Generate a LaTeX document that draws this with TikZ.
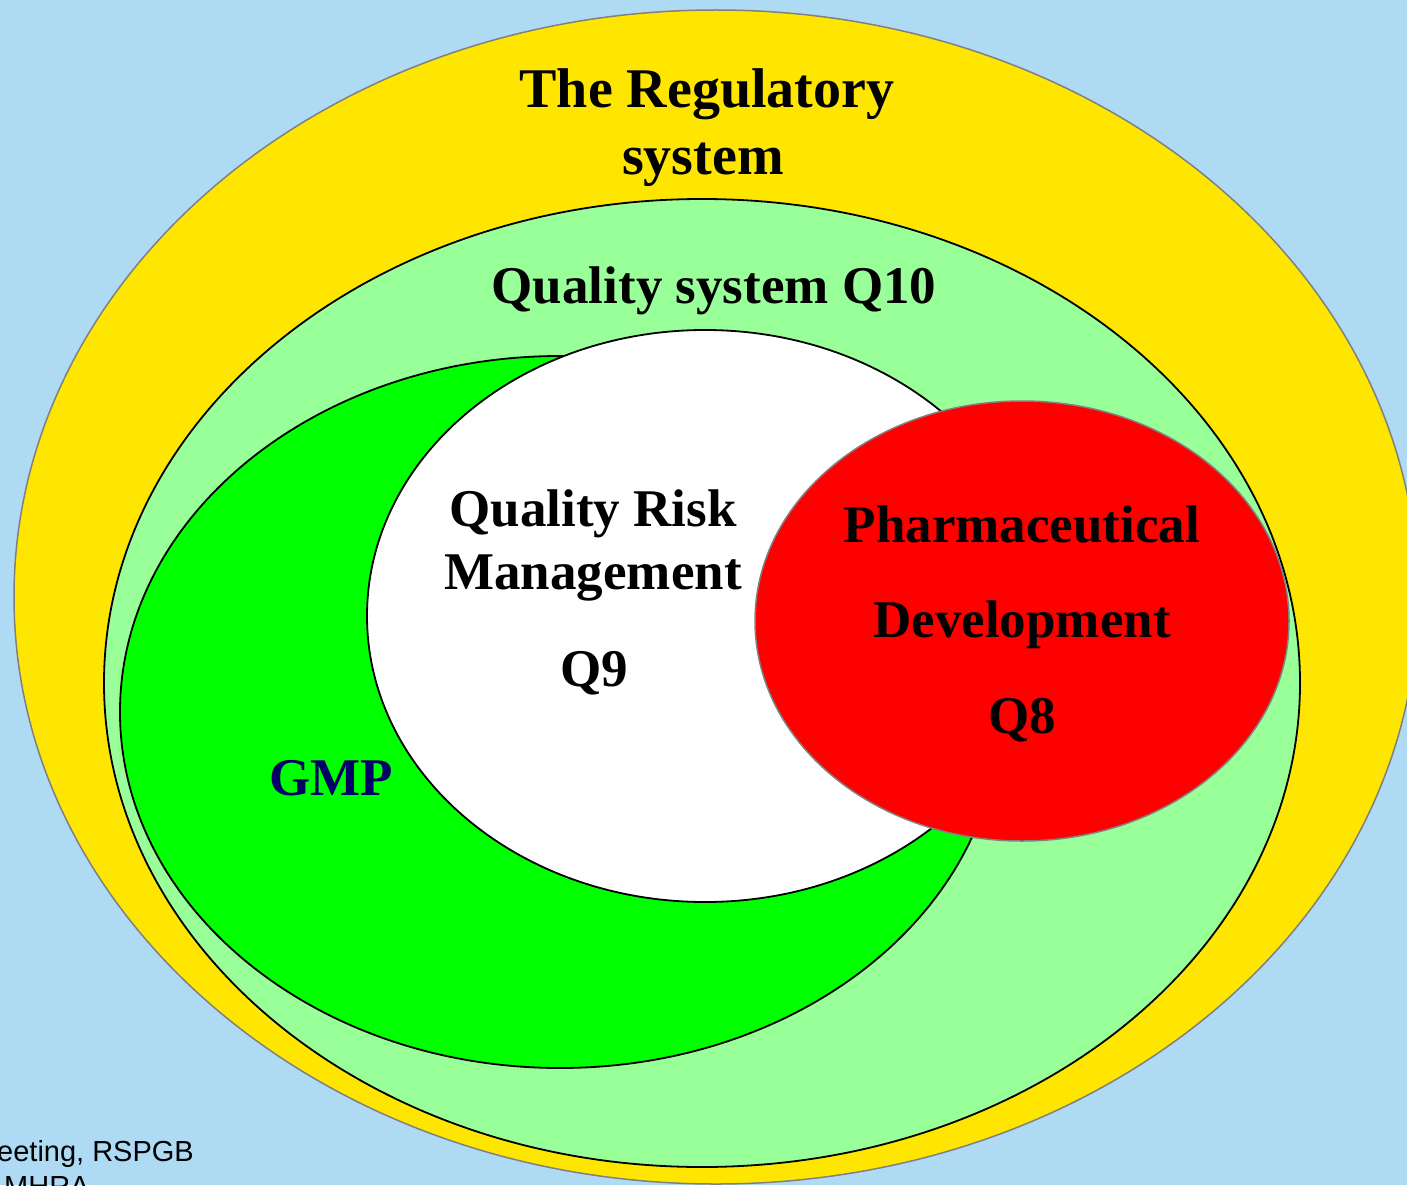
\documentclass[tikz,border=0pt]{standalone}
\usepackage{fontspec}
\setmainfont{Liberation Serif}
\newfontfamily\notefont{Liberation Sans}
\definecolor{skyback}{RGB}{174,218,244}
\definecolor{regyellow}{RGB}{255,230,0}
\definecolor{qsgreen}{RGB}{153,255,153}
\definecolor{gmpgreen}{RGB}{0,255,0}
\definecolor{pdred}{RGB}{255,0,0}
\definecolor{gmpnavy}{RGB}{0,0,102}
\definecolor{rimgray}{RGB}{128,128,128}
\tikzset{
  graybound/.style={draw=rimgray, line width=1.5pt},
  blackbound/.style={draw=black, line width=1.8pt},
  biglabel/.style={font=\fontsize{53}{66}\selectfont\bfseries, align=center, anchor=base, inner sep=0pt},
  titlelabel/.style={biglabel, font=\fontsize{56}{67}\selectfont\bfseries},
  notelabel/.style={font=\notefont\fontsize{29}{34}\selectfont, anchor=base west, inner sep=0pt},
}
\begin{document}
\begin{tikzpicture}[x=1pt, y=-1pt]
  \useasboundingbox (0,0) rectangle (1407,1185);
  \clip (0,0) rectangle (1407,1185);
  \fill[skyback] (0,0) rectangle (1407,1185);

  % nested systems
  \draw[graybound, fill=regyellow] (716,597) ellipse [x radius=702, y radius=587];
  \draw[blackbound, fill=qsgreen] (702,683) ellipse [x radius=598, y radius=484];
  \draw[blackbound, fill=gmpgreen] (560,712) ellipse [x radius=440, y radius=356];
  \draw[blackbound, fill=white] (705,616) ellipse [x radius=338, y radius=286];
  \draw[graybound, fill=pdred] (1022,621) ellipse [x radius=267, y radius=220];

  % labels
  \node[titlelabel] (reg1) at (707,108) {The Regulatory};
  \node[titlelabel] (reg2) at (703,175) {system};
  \node[biglabel] (qs) at (714,303) {Quality system Q10};
  \node[biglabel] (qrm1) at (593,526) {Quality Risk};
  \node[biglabel] (qrm2) at (593,589) {Management};
  \node[biglabel] (qrm3) at (594,686) {Q9};
  \node[biglabel] (pd1) at (1022,542) {Pharmaceutical};
  \node[biglabel] (pd2) at (1022,637) {Development};
  \node[biglabel] (pd3) at (1022,733) {Q8};
  \node[biglabel, text=gmpnavy] (gmp) at (331,795) {GMP};

  % footer note
  \node[notelabel] (note1) at (-3,1161) {eeting, RSPGB};
  \node[notelabel] (note2) at (4,1196) {MHRA};
\end{tikzpicture}
\end{document}
